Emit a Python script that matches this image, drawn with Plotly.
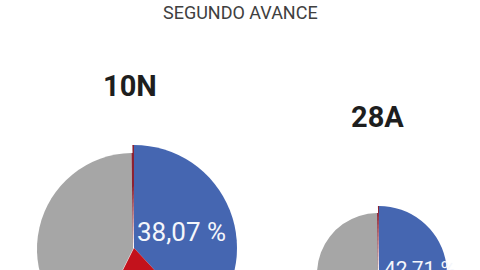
import plotly.graph_objects as go

W, H = 480, 420

# ---- data ----
titulo = "SEGUNDO AVANCE"
elecciones = ["10N", "28A"]
segmentos = ["Participación", "Referencia", "Abstención", "Nulos"]
participacion = [38.07, 42.71]
referencia = [19.30, 19.00]
abstencion = [42.38, 38.04]
nulos = [0.25, 0.25]

# ---- styles ----
AZUL = "#4566b1"
ROJO = "#c3121c"
GRIS = "#a6a6a6"
LINEA = "#8c2233"
NADA = "rgba(0,0,0,0)"
FONT = "Roboto"

# geometry in px: inner circle (cx, cy, r), outer circle, title centre, label (left x, y, size)
geo = [
    dict(inner=(133, 249, 96), outer=(134, 248, 103), title=(130, 86), label=(135, 232, 26)),
    dict(inner=(378, 274, 61), outer=(379, 274, 68), title=(377, 117), label=(382, 269, 21)),
]


def dom(cx, cy, r):
    return dict(x=[(cx - r) / W, (cx + r) / W], y=[1 - (cy + r) / H, 1 - (cy - r) / H])


fig = go.Figure()
annotations = [
    dict(text=titulo, x=240 / W, y=1 - 12.5 / H, xref="paper", yref="paper",
         xanchor="center", yanchor="middle", showarrow=False,
         font=dict(family=FONT, size=18, color="#404040"))
]

for i, name in enumerate(elecciones):
    vals = [participacion[i], referencia[i], abstencion[i], nulos[i]]
    g = geo[i]
    # inner pie: grey part
    fig.add_trace(go.Pie(
        labels=segmentos, values=vals, sort=False, direction="clockwise", rotation=0,
        domain=dom(*g["inner"]), textinfo="none", hoverinfo="skip", showlegend=False,
        marker=dict(colors=[NADA, NADA, GRIS, LINEA], line=dict(width=0)),
    ))
    # outer pie: blue (participation), red, separator
    fig.add_trace(go.Pie(
        labels=segmentos, values=vals, sort=False, direction="clockwise", rotation=0,
        domain=dom(*g["outer"]), textinfo="none", hoverinfo="skip", showlegend=False,
        marker=dict(colors=[AZUL, ROJO, NADA, LINEA], line=dict(width=0)),
    ))
    tx, ty = g["title"]
    annotations.append(dict(text=f"<b>{name}</b>", x=tx / W, y=1 - ty / H, xref="paper", yref="paper",
                            xanchor="center", yanchor="middle", showarrow=False,
                            font=dict(family=FONT, size=29, color="#1e1e1e")))
    lx, ly, ls = g["label"]
    annotations.append(dict(text=f"{participacion[i]:.2f} %".replace(".", ","),
                            x=lx / W, y=1 - ly / H, xref="paper", yref="paper",
                            xanchor="left", yanchor="middle", showarrow=False,
                            font=dict(family=FONT, size=ls, color="#f4f6fb")))

fig.update_layout(
    width=W, height=H, margin=dict(l=0, r=0, t=0, b=0),
    paper_bgcolor="white", plot_bgcolor="white",
    annotations=annotations,
)

fig.write_html("out.html", post_script="document.body.style.margin='0';document.body.style.overflow='hidden';")
